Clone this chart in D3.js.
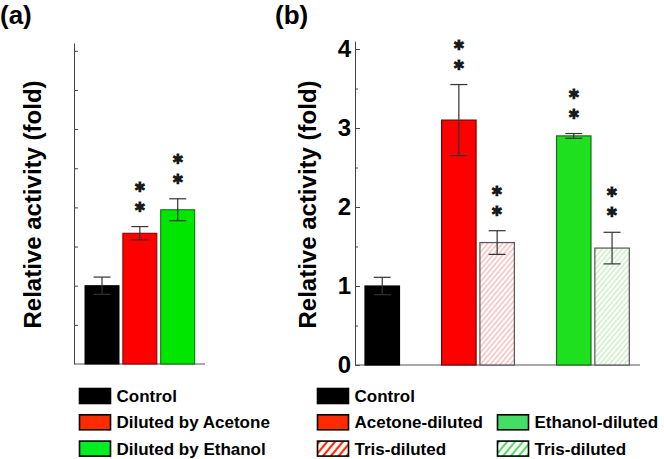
<!DOCTYPE html>
<html><head><meta charset="utf-8">
<script src="https://cdn.jsdelivr.net/npm/d3@7"></script>
<style>body{margin:0;background:#fff}svg{display:block}text{font-family:"Liberation Sans",Arial,sans-serif;font-weight:bold}</style>
</head><body><svg id="c" width="664" height="459"></svg>
<script>
// ---- data ----
const catsA = ["Control", "Diluted by Acetone", "Diluted by Ethanol"];
const valsA = [1.00, 1.67, 1.97];
const errA  = [0.11, 0.085, 0.14];
const sigA  = [0, 2, 2];

const catsB  = ["Control", "Acetone-diluted", "Tris-diluted (acetone)", "Ethanol-diluted", "Tris-diluted (ethanol)"];
const slotsB = [0, 2, 3, 5, 6];
const valsB  = [1.00, 3.10, 1.55, 2.90, 1.48];
const errB   = [0.11, 0.45, 0.15, 0.03, 0.20];
const sigB   = [0, 2, 2, 2, 2];

const ticksMajorB = [0, 1, 2, 3, 4];
const ticksMinorB = [0.5, 1.5, 2.5, 3.5];
const ticksA = [0.5, 1, 1.5, 2, 2.5, 3, 3.5, 4];

const legendA = ["Control", "Diluted by Acetone", "Diluted by Ethanol"];
const legendB = ["Control", "Acetone-diluted", "Tris-diluted", "Ethanol-diluted", "Tris-diluted"];

// ---- styles ----
const fillA = ["#000000", "#ff0000", "#00e600"];
const strokeA = ["#000000", "#7a0000", "#0a6a0a"];
const fillB = ["#000000", "#ff0000", "url(#hatchR)", "#1fe01f", "url(#hatchG)"];
const strokeB = ["#000000", "#7a0000", "#555555", "#1f6a1f", "#555555"];

const svg = d3.select("#c");
const defs = svg.append("defs");
function hatch(id, color, w, sw){
  const p = defs.append("pattern").attr("id", id).attr("patternUnits","userSpaceOnUse")
    .attr("width", w).attr("height", w).attr("patternTransform","rotate(40)");
  p.append("rect").attr("width", w).attr("height", w).attr("fill","#fff");
  p.append("line").attr("x1", w/2).attr("x2", w/2).attr("y1", 0).attr("y2", w)
    .attr("stroke", color).attr("stroke-width", sw);
}
hatch("hatchR", "#f29a9a", 3.8, 1);
hatch("hatchG", "#b2e6a8", 3.8, 1);
hatch("hatchRL", "#ff2a00", 6, 2.2);
hatch("hatchGL", "#55dd66", 6, 2.2);

// ---- panel (a) ----
const yA = d3.scaleLinear().domain([0, 4.1]).range([364, 364 - 4.1 * 78.3]);
const xA = d3.scaleBand().domain(catsA).range([85, 194.7]).paddingInner(0.102).paddingOuter(0);
const gA = svg.append("g");
const axA = d3.axisRight(yA).tickValues(ticksA).tickFormat("").tickSizeInner(4).tickSizeOuter(0);
gA.append("g").attr("transform","translate(74,0)").call(axA)
  .call(g => { g.select(".domain").attr("stroke","#444"); g.selectAll(".tick line").attr("stroke","#444"); });
gA.append("line").attr("x1",74).attr("x2",205).attr("y1",yA(0)).attr("y2",yA(0)).attr("stroke","#555");

gA.selectAll("rect.bar").data(catsA).join("rect").attr("class","bar")
  .attr("x", d => xA(d)).attr("width", xA.bandwidth())
  .attr("y", (d,i) => yA(valsA[i])).attr("height", (d,i) => yA(0) - yA(valsA[i]))
  .attr("fill", (d,i) => fillA[i]).attr("stroke", (d,i) => strokeA[i]).attr("stroke-width", 1);

function errBars(g, cats, ys, vals, errs, getX, bw){
  const cap = 8.5;
  cats.forEach((d,i) => {
    const cx = getX(i) + bw/2;
    const y1 = ys(vals[i] + errs[i]), y2 = ys(vals[i] - errs[i]);
    g.append("line").attr("x1",cx).attr("x2",cx).attr("y1",y1).attr("y2",y2).attr("stroke","#333").attr("stroke-width",1.2);
    g.append("line").attr("x1",cx-cap).attr("x2",cx+cap).attr("y1",y1).attr("y2",y1).attr("stroke","#333").attr("stroke-width",1.2);
    g.append("line").attr("x1",cx-cap).attr("x2",cx+cap).attr("y1",y2).attr("y2",y2).attr("stroke","#333").attr("stroke-width",1.2);
  });
}
function stars(g, cats, ys, vals, errs, sig, getX, bw){
  cats.forEach((d,i) => {
    const cx = getX(i) + bw/2;
    const top = ys(vals[i] + errs[i]);
    for (let k = 0; k < sig[i]; k++){
      g.append("text").attr("x", cx).attr("y", top - 20 - 20*k).attr("text-anchor","middle")
        .attr("dominant-baseline","central")
        .attr("font-family","'DejaVu Sans',sans-serif").attr("font-weight","normal")
        .attr("font-size", 14).attr("fill","#1a1a1a").text("\u2731");
    }
  });
}
errBars(gA, catsA, yA, valsA, errA, i => xA(catsA[i]), xA.bandwidth());
stars(gA, catsA, yA, valsA, errA, sigA, i => xA(catsA[i]), xA.bandwidth());

svg.append("text").attr("transform","translate(41,204.5) rotate(-90)").attr("text-anchor","middle")
  .attr("font-size",24).attr("fill","#000").text("Relative activity (fold)");
svg.append("text").attr("x",0).attr("y",24).attr("font-size",26).attr("fill","#000").text("(a)");

// ---- panel (b) ----
const yB = d3.scaleLinear().domain([0, 4.1]).range([365, 365 - 4.1 * 79]);
const xB = d3.scaleBand().domain(d3.range(7)).range([365, 629.3]).paddingInner(0.1).paddingOuter(0);
const gB = svg.append("g");
gB.append("g").attr("transform","translate(355,0)")
  .call(d3.axisLeft(yB).tickValues(ticksMajorB).tickFormat(d3.format("d")).tickSizeInner(-5).tickSizeOuter(0).tickPadding(4))
  .call(g => { g.select(".domain").attr("stroke","#444"); g.selectAll(".tick line").attr("stroke","#444");
    g.selectAll(".tick text").attr("font-size",24).attr("font-family","'Liberation Sans',Arial,sans-serif").attr("font-weight","bold").attr("fill","#000"); });
gB.append("g").attr("transform","translate(355,0)")
  .call(d3.axisLeft(yB).tickValues(ticksMinorB).tickFormat("").tickSizeInner(-3).tickSizeOuter(0))
  .call(g => { g.select(".domain").remove(); g.selectAll(".tick line").attr("stroke","#444"); });
gB.append("line").attr("x1",355).attr("x2",640).attr("y1",yB(0)).attr("y2",yB(0)).attr("stroke","#555");

gB.selectAll("rect.bar").data(catsB).join("rect").attr("class","bar")
  .attr("x", (d,i) => xB(slotsB[i])).attr("width", xB.bandwidth())
  .attr("y", (d,i) => yB(valsB[i])).attr("height", (d,i) => yB(0) - yB(valsB[i]))
  .attr("fill", (d,i) => fillB[i]).attr("stroke", (d,i) => strokeB[i]).attr("stroke-width", 1.2);
errBars(gB, catsB, yB, valsB, errB, i => xB(slotsB[i]), xB.bandwidth());
stars(gB, catsB, yB, valsB, errB, sigB, i => xB(slotsB[i]), xB.bandwidth());

svg.append("text").attr("transform","translate(316,204.5) rotate(-90)").attr("text-anchor","middle")
  .attr("font-size",24).attr("fill","#000").text("Relative activity (fold)");
svg.append("text").attr("x",275).attr("y",24).attr("font-size",26).attr("fill","#000").text("(b)");

// ---- legends ----
const rowY = [396, 422.3, 448.6];
function legendItem(x, row, fill, stroke, label){
  const g = svg.append("g").attr("transform", `translate(${x},${rowY[row]})`);
  g.append("rect").attr("x",0).attr("y",-7.5).attr("width",31).attr("height",15)
    .attr("fill",fill).attr("stroke",stroke).attr("stroke-width",1.6);
  g.append("text").attr("x",37).attr("y",6).attr("font-size",17).attr("fill","#000").text(label);
}
const legFillA = ["#000", "#ff2a00", "#00ee22"];
legendA.forEach((t,i) => legendItem(79.5, i, legFillA[i], "#000", t));
const legFillB = ["#000", "#ff2a00", "url(#hatchRL)", "#44dd66", "url(#hatchGL)"];
const legColB = [317.5, 317.5, 317.5, 497.5, 497.5];
const legRowB = [0, 1, 2, 1, 2];
legendB.forEach((t,i) => legendItem(legColB[i], legRowB[i], legFillB[i], "#000", t));
</script></body></html>
